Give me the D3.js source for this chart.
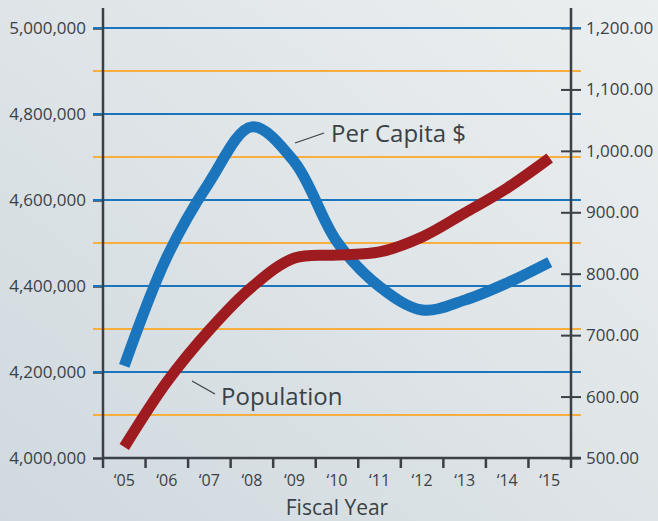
<!DOCTYPE html>
<html>
<head>
<meta charset="utf-8">
<script src="https://cdn.jsdelivr.net/npm/d3@7"></script>
<style>
  body { margin: 0; }
  svg { display: block; font-family: "Open Sans", sans-serif; }
</style>
</head>
<body>
<div class="chart"></div>
<script>
// Chart data
var years = ["05", "06", "07", "08", "09", "10", "11", "12", "13", "14", "15"];
var population = [4025600, 4176700, 4297700, 4397700, 4465100, 4472100, 4479100, 4514000, 4569800, 4627900, 4697700];
var perCapita = [650, 827, 949, 1039, 982, 852, 779, 741, 757, 785, 819];
var leftTicks = [4000000, 4200000, 4400000, 4600000, 4800000, 5000000];
var midTicks = [4100000, 4300000, 4500000, 4700000, 4900000];
var rightTicks = [500, 600, 700, 800, 900, 1000, 1100, 1200];

var svgWidth = 658;
var svgHeight = 521;
var plot = { left: 103, right: 571, top: 28, bottom: 458 };

var svg = d3.select(".chart").append("svg")
  .attr("width", svgWidth)
  .attr("height", svgHeight);

// background gradient
var grad = svg.append("defs").append("linearGradient")
  .attr("id", "bg").attr("x1", "0").attr("y1", "1").attr("x2", "1").attr("y2", "0");
grad.append("stop").attr("offset", "0").attr("stop-color", "#cfd9df");
grad.append("stop").attr("offset", "0.5").attr("stop-color", "#dee4e7");
grad.append("stop").attr("offset", "1").attr("stop-color", "#eceff0");
svg.append("rect").attr("width", svgWidth).attr("height", svgHeight).attr("fill", "url(#bg)");

// scales
var x = d3.scaleBand().domain(years).range([plot.left, plot.right]);
var yLeft = d3.scaleLinear().domain([4000000, 5000000]).range([plot.bottom, plot.top]);
var yRight = d3.scaleLinear().domain([500, 1200]).range([plot.bottom, plot.top]);

var axisColor = "#3b4046";
var textColor = "#3a4146";

// right axis ticks (crossing the axis)
var rAxis = svg.append("g")
  .attr("transform", `translate(${plot.right},0)`)
  .call(d3.axisRight(yRight).tickValues(rightTicks).tickSize(10).tickPadding(5)
    .tickFormat(d3.format(",.2f")));
rAxis.select(".domain").remove();
rAxis.selectAll(".tick line").attr("x1", -10).attr("x2", 10)
  .attr("stroke", axisColor).attr("stroke-width", 2);
rAxis.selectAll(".tick text").attr("fill", textColor).style("font-size", "17px")
  .style("font-family", "Open Sans");

// left axis
var lAxis = svg.append("g")
  .attr("transform", `translate(${plot.left},0)`)
  .call(d3.axisLeft(yLeft).tickValues(leftTicks).tickSize(10).tickPadding(7)
    .tickFormat(d3.format(",")));
lAxis.select(".domain").remove();
lAxis.selectAll(".tick line").attr("stroke", axisColor).attr("stroke-width", 2.5);
lAxis.selectAll(".tick text").attr("fill", textColor).style("font-size", "17px")
  .style("font-family", "Open Sans");

// grid lines
svg.append("g").selectAll("line").data(midTicks).enter().append("line")
  .attr("x1", plot.left - 10).attr("x2", plot.right + 10)
  .attr("y1", d => yLeft(d)).attr("y2", d => yLeft(d))
  .attr("stroke", "#fbad3d").attr("stroke-width", 2);
svg.append("g").selectAll("line").data(leftTicks.slice(1)).enter().append("line")
  .attr("x1", plot.left - 10).attr("x2", plot.right + 10)
  .attr("y1", d => yLeft(d)).attr("y2", d => yLeft(d))
  .attr("stroke", "#1b75bc").attr("stroke-width", 2);

// bottom axis: ticks on band edges
var xAxis = svg.append("g")
  .attr("transform", `translate(0,${plot.bottom})`)
  .call(d3.axisBottom(x).tickSize(0).tickPadding(17).tickFormat(d => "\u2018" + d));
xAxis.select(".domain").remove();
xAxis.selectAll(".tick text").attr("fill", textColor).style("font-size", "16px")
  .style("font-family", "Open Sans");
xAxis.selectAll(".edge").data(years.slice(1)).enter().append("line")
  .attr("x1", d => x(d)).attr("x2", d => x(d))
  .attr("y1", 0).attr("y2", 10)
  .attr("stroke", axisColor).attr("stroke-width", 2.5);
xAxis.append("line").attr("x1", plot.right).attr("x2", plot.right).attr("y1", 0).attr("y2", 10)
  .attr("stroke", axisColor).attr("stroke-width", 2.5);
xAxis.append("line").attr("x1", plot.left).attr("x2", plot.left).attr("y1", 0).attr("y2", 10)
  .attr("stroke", axisColor).attr("stroke-width", 2.5);

// axis lines
svg.append("line").attr("x1", plot.left).attr("x2", plot.left).attr("y1", 8).attr("y2", plot.bottom + 1)
  .attr("stroke", axisColor).attr("stroke-width", 2.5);
svg.append("line").attr("x1", plot.right).attr("x2", plot.right).attr("y1", 8).attr("y2", plot.bottom)
  .attr("stroke", axisColor).attr("stroke-width", 2.5);
svg.append("line").attr("x1", plot.left).attr("x2", plot.right + 10).attr("y1", plot.bottom).attr("y2", plot.bottom)
  .attr("stroke", axisColor).attr("stroke-width", 2.5);

// data lines
var cx = d => x(d) + x.bandwidth() / 2;

var blueLine = d3.line()
  .x((d, i) => cx(years[i]))
  .y(d => yRight(d))
  .curve(d3.curveCatmullRom.alpha(0.5));
svg.append("path").datum(perCapita)
  .attr("d", blueLine)
  .attr("fill", "none").attr("stroke", "#1b75bc").attr("stroke-width", 11)
  .attr("stroke-linejoin", "round");

var redLine = d3.line()
  .x((d, i) => cx(years[i]))
  .y(d => yLeft(d))
  .curve(d3.curveCatmullRom.alpha(0.5));
svg.append("path").datum(population)
  .attr("d", redLine)
  .attr("fill", "none").attr("stroke", "#9e1b20").attr("stroke-width", 11)
  .attr("stroke-linejoin", "round");

// annotations
svg.append("line").attr("x1", 295).attr("y1", 143).attr("x2", 324).attr("y2", 133)
  .attr("stroke", textColor).attr("stroke-width", 1.2);
svg.append("text").attr("x", 331).attr("y", 142)
  .attr("fill", textColor).style("font-size", "24px")
  .text("Per Capita $");

svg.append("line").attr("x1", 192).attr("y1", 381).attr("x2", 215).attr("y2", 394)
  .attr("stroke", textColor).attr("stroke-width", 1.2);
svg.append("text").attr("x", 221).attr("y", 405)
  .attr("fill", textColor).style("font-size", "24px")
  .text("Population");

// axis title
svg.append("text").attr("x", (plot.left + plot.right) / 2).attr("y", 515)
  .attr("text-anchor", "middle")
  .attr("fill", textColor).style("font-size", "21px")
  .text("Fiscal Year");
</script>
</body>
</html>
